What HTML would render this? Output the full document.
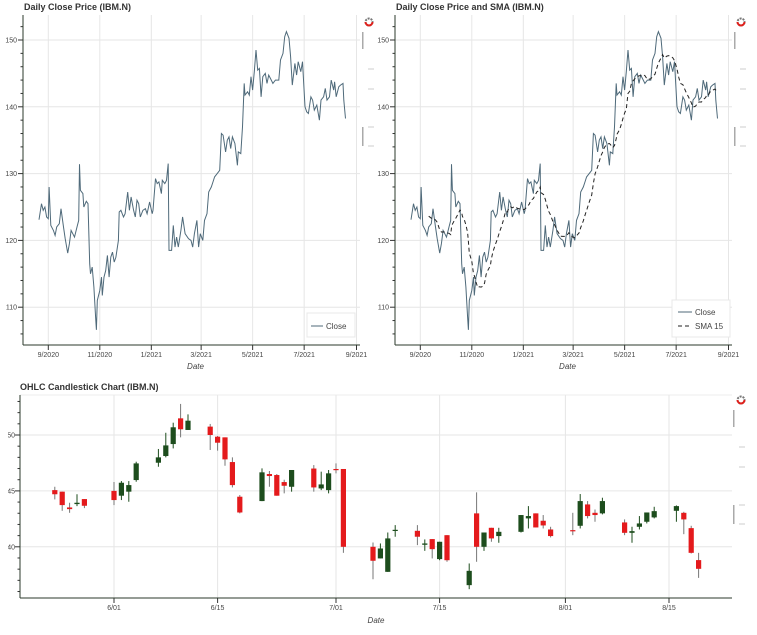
<!DOCTYPE html>
<html><head><meta charset="utf-8">
<style>
html,body{margin:0;padding:0;background:#fff;}
svg{display:block;font-family:"Liberation Sans",sans-serif;}
.title{font-size:9px;font-weight:bold;fill:#333;}
.tick{font-size:7px;fill:#444;}
.axl{font-size:8px;font-style:italic;fill:#444;}
.grid{stroke:#e6e6e6;stroke-width:1;}
</style></head>
<body>
<svg id="chart" width="757" height="635" viewBox="0 0 757 635" xmlns="http://www.w3.org/2000/svg">
<defs><clipPath id="ylabclip"><rect x="8" y="380" width="20" height="240"/></clipPath></defs>
</svg>
<script>
// ---- Daily close data (days since 2020-09-01) ----
const closeDays = [-11,-8,-6,-4,-2,0,1,3,6,8,10,13,15,18,20,23,25,27,29,31,34,36,37,38,41,42,45,47,49,50,52,54,56,57,58,61,63,64,66,68,70,72,74,76,78,80,83,84,86,89,91,94,96,98,101,103,105,107,109,112,115,117,120,123,124,127,129,131,134,135,138,140,142,143,146,148,150,152,154,157,159,162,166,169,171,173,176,178,180,183,185,188,190,193,195,197,200,203,205,207,210,212,214,216,218,221,224,225,228,230,232,233,236,238,240,242,244,246,248,250,252,254,257,259,261,263,266,269,273,275,278,280,282,285,287,289,292,294,296,299,301,304,306,308,311,313,315,318,321,323,326,328,330,333,335,338,339,341,344,346,349,350,352];
const closeVals = [123.1,125.5,124.5,125,123.5,123.25,128,122.25,121.5,120.75,122,122.5,124.75,122,120.25,118.1,119.5,121.5,121,120.5,122,123,131.4,127.5,127,125,125.85,125.5,116.5,115,116,113,108.5,106.6,111,112.5,114.5,111.75,114.5,115.5,117.75,114.5,117.5,118.25,116.75,117.5,120,124.25,124.5,123.5,124,127.25,124.5,126.5,124.5,123.5,126,125.5,123.5,124.5,124.75,124,125.75,124,124.5,129.25,128.5,128.75,127,129,128.5,129,131.5,118.5,118.5,122.25,119,120.5,119,121.5,123.5,121,120.25,120,119,121,123,119,121,120,123,124,127.25,128,128.75,129.5,130,130.5,136,135.75,133.25,135,135.5,133.75,135.5,134.5,131.25,133.25,133,137,143.5,141.75,142.25,141.75,144.5,142.5,145.25,148.5,145.5,145.75,141.5,144.5,145,143.5,144.75,144.25,143.5,144,144,147,148,150.5,151.25,150.25,147.5,143.25,146.5,144.75,146.75,145.25,146.75,140,139.25,139,141.5,141,139.5,140.25,138,141,141.5,142.75,141,141.5,144,142.5,143.75,141.5,143,143.25,143.5,141,138.25];
const lineTickLabels = ["9/2020","11/2020","1/2021","3/2021","5/2021","7/2021","9/2021"];
const lineTickDays = [0,61,122,181,242,303,365];
const lineYTicks = [110,120,130,140,150];
const smaWindowDays = 21;

// ---- OHLC data (days since 2021-06-01) ----
const ohlcDays = [-8,-7,-6,-5,-4,0,1,2,3,6,7,8,9,10,13,14,15,16,17,20,21,22,23,24,27,28,29,30,31,35,36,37,38,41,42,43,44,45,48,49,50,51,52,55,56,57,58,59,62,63,64,65,66,69,70,71,72,73,76,77,78,79];
const ohlcOpen = [145.07,144.93,143.52,143.82,144.27,145.0,144.57,144.93,145.97,147.52,148.12,149.19,151.49,150.45,150.75,149.85,149.79,147.58,144.48,144.09,146.51,146.42,145.79,145.37,147.0,145.22,145.07,146.96,146.96,140.0,138.96,137.76,141.43,141.43,140.18,140.69,138.9,141.04,136.57,142.99,140.0,141.7,140.96,141.34,142.54,142.99,142.33,141.55,141.49,141.88,143.79,143.04,142.99,142.18,141.25,141.79,142.24,142.63,143.22,143.04,141.67,138.81];
const ohlcHigh = [145.37,144.93,143.94,144.7,144.27,145.8,145.88,145.88,147.61,148.75,150.2,151.1,152.78,151.85,150.99,149.91,149.79,148.0,144.63,147.01,146.78,146.51,146.0,146.87,147.31,146.72,146.87,147.46,146.96,140.39,140.3,141.28,141.94,141.94,140.66,140.69,140.45,141.04,138.51,144.87,141.28,141.7,141.7,142.84,143.64,142.99,142.84,141.79,143.04,144.72,144.09,143.34,144.39,142.45,141.79,142.75,143.07,143.58,143.7,143.13,141.88,139.46];
const ohlcLow = [144.24,143.22,143.04,143.64,143.46,143.73,144.18,144.03,145.82,147.16,148.0,148.8,149.79,150.45,148.66,148.6,147.25,145.31,142.99,144.09,145.37,144.57,144.78,144.93,144.93,145.07,144.78,146.57,139.46,137.1,138.96,137.76,140.9,140.15,139.64,138.96,138.8,138.66,136.21,138.66,139.64,140.45,140.36,141.28,141.64,141.73,141.64,140.84,141.04,141.64,142.54,142.24,142.9,141.04,140.36,141.55,142.09,142.54,142.24,141.13,139.4,137.22];
const ohlcClose = [144.7,143.73,143.37,143.94,143.67,144.18,145.73,145.52,147.46,148.0,149.07,150.69,150.51,151.28,150.0,149.31,147.82,145.52,143.07,146.66,146.33,144.57,145.46,146.87,145.31,145.58,146.57,146.87,140.0,138.75,139.85,140.75,141.52,140.9,140.3,139.79,140.45,138.8,137.85,140.0,141.28,140.75,141.34,142.84,142.75,141.73,141.91,140.96,141.43,144.09,142.75,142.84,144.09,141.25,141.4,142.09,143.07,143.19,143.64,142.45,139.46,138.03];
const ohlcTickLabels = ["6/01","6/15","7/01","7/15","8/01","8/15"];
const ohlcTickDays = [0,14,30,44,61,75];
const ohlcYTicks = [140,145,150];

const NS="http://www.w3.org/2000/svg";
const svg=document.getElementById('chart');
function mk(tag,attrs,parent){const e=document.createElementNS(NS,tag);for(const k in attrs)e.setAttribute(k,attrs[k]);(parent||svg).appendChild(e);return e;}

// ---------- line charts ----------
function lineChart(ox,title,withSma){
  const L=23+ox,R=360+ox,T=15,B=345;
  const xs=d=>48.3+ox+d*0.8444;
  const ys=p=>40+(150-p)*6.68;
  const g=mk('g',{});
  
  
  const t=mk('text',{x:L+1,y:10,class:'title'},g);t.textContent=title;
  
  lineTickDays.forEach((d,i)=>{
    mk('line',{x1:xs(d),x2:xs(d),y1:T,y2:B,class:'grid'},g);
    mk('line',{x1:xs(d),x2:xs(d),y1:B,y2:B+5,stroke:'#333'},g);
    const tx=mk('text',{x:xs(d),y:B+12,class:'tick','text-anchor':'middle'},g);tx.textContent=lineTickLabels[i];
    
  });
  lineYTicks.forEach(v=>{
    mk('line',{x1:L,x2:R,y1:ys(v),y2:ys(v),class:'grid'},g);
    mk('line',{x1:L-5,x2:L,y1:ys(v),y2:ys(v),stroke:'#333'},g);
    const ty=mk('text',{x:L-6,y:ys(v)+2.5,class:'tick','text-anchor':'end'},g);ty.textContent=v;
    
  });
  for(let v=106;v<=152;v+=2){ if(v%10) mk('line',{x1:L-2.5,x2:L,y1:ys(v),y2:ys(v),stroke:'#333'},g); }
  mk('line',{x1:L,x2:L,y1:T,y2:B,stroke:'#2b3a2b'},g);
  mk('line',{x1:L,x2:R,y1:B,y2:B,stroke:'#2b3a2b'},g);
  const xl=mk('text',{x:(L+R)/2+4,y:369,class:'axl','text-anchor':'middle'},g);xl.textContent='Date';
  
  const pts=closeDays.map((d,i)=>xs(d).toFixed(1)+','+ys(closeVals[i]).toFixed(1)).join(' ');
  const pl=mk('polyline',{points:pts,fill:'none',stroke:'#4f6a7a','stroke-width':1},g);
  
  let lg;
  if(withSma){
    const sp=[];
    closeDays.forEach((d,i)=>{
      if(d-closeDays[0]<smaWindowDays) return;
      let s=0,n=0;closeDays.forEach((d2,j)=>{if(d2<=d&&d2>d-smaWindowDays){s+=closeVals[j];n++;}});
      sp.push(xs(d).toFixed(1)+','+ys(s/n).toFixed(1));
    });
    const sl=mk('polyline',{points:sp.join(' '),fill:'none',stroke:'#222','stroke-width':1,'stroke-dasharray':'4,3'},g);
    
    lg=mk('g',{},g);
    mk('rect',{x:672,y:300,width:58,height:37,fill:'#fff',stroke:'#e8e8e8'},lg);
    mk('line',{x1:678,x2:692,y1:312,y2:312,stroke:'#4f6a7a'},lg);
    const a=mk('text',{x:695,y:315,style:'font-size:8px;fill:#444'},lg);a.textContent='Close';
    mk('line',{x1:678,x2:692,y1:326,y2:326,stroke:'#222','stroke-dasharray':'4,3'},lg);
    const b=mk('text',{x:695,y:329,style:'font-size:8px;fill:#444'},lg);b.textContent='SMA 15';
  } else {
    lg=mk('g',{},g);
    mk('rect',{x:307,y:313,width:48,height:24,fill:'#fff',stroke:'#e8e8e8'},lg);
    mk('line',{x1:311,x2:323,y1:326,y2:326,stroke:'#4f6a7a'},lg);
    const a=mk('text',{x:326,y:329,style:'font-size:8px;fill:#444'},lg);a.textContent='Close';
  }
  
  toolbar(ox+369,22,ox+362);
}
function toolbar(cx,cy,bx){
  const tb=mk('g',{});
  
  mk('circle',{cx:cx,cy:cy,r:3.5,fill:'none',stroke:'#777','stroke-width':2,'stroke-dasharray':'2,1'},tb);
  mk('path',{d:`M${cx-3.5} ${cy} A3.5 3.5 0 0 0 ${cx+3.5} ${cy}`,fill:'none',stroke:'#e0201c','stroke-width':2},tb);
  mk('rect',{x:bx,y:cy+10,width:1.5,height:17,fill:'#aaa'},tb);
  mk('line',{x1:bx+6,x2:bx+12,y1:cy+47,y2:cy+47,stroke:'#ccc'},tb);
  mk('line',{x1:bx+6,x2:bx+12,y1:cy+67,y2:cy+67,stroke:'#ccc'},tb);
  mk('line',{x1:bx+6,x2:bx+12,y1:cy+105,y2:cy+105,stroke:'#ccc'},tb);
  mk('rect',{x:bx,y:cy+105,width:1.5,height:19,fill:'#aaa'},tb);
  mk('line',{x1:bx+6,x2:bx+12,y1:cy+124,y2:cy+124,stroke:'#ccc'},tb);
}
lineChart(0,'Daily Close Price (IBM.N)',false);
lineChart(372,'Daily Close Price and SMA (IBM.N)',true);

// ---------- candlestick ----------
(function(){
  const L=20,R=732,T=395,B=598;
  const xs=d=>114+d*7.4;
  const ys=p=>435+(150-p)*11.18;
  const g=mk('g',{});
  
  const t=mk('text',{x:L,y:390,class:'title'},g);t.textContent='OHLC Candlestick Chart (IBM.N)';
  
  mk('line',{x1:L,x2:R,y1:T,y2:T,stroke:'#eee'},g);
  ohlcTickDays.forEach((d,i)=>{
    mk('line',{x1:xs(d),x2:xs(d),y1:T,y2:B,class:'grid'},g);
    mk('line',{x1:xs(d),x2:xs(d),y1:B,y2:B+5,stroke:'#333'},g);
    const tx=mk('text',{x:xs(d),y:B+12,class:'tick','text-anchor':'middle'},g);tx.textContent=ohlcTickLabels[i];
    
  });
  ohlcYTicks.forEach(v=>{
    mk('line',{x1:L,x2:R,y1:ys(v),y2:ys(v),class:'grid'},g);
    mk('line',{x1:L-5,x2:L,y1:ys(v),y2:ys(v),stroke:'#333'},g);
    const ty=mk('text',{x:L-5,y:ys(v)+2.5,class:'tick','text-anchor':'end','clip-path':'url(#ylabclip)'},g);ty.textContent=v;
    
  });
  for(let v=136;v<=153;v++){ if(v%5) mk('line',{x1:L-2.5,x2:L,y1:ys(v),y2:ys(v),stroke:'#333'},g); }
  mk('line',{x1:L,x2:L,y1:T,y2:B,stroke:'#2b3a2b'},g);
  mk('line',{x1:L,x2:R,y1:B,y2:B,stroke:'#2b3a2b'},g);
  const xl=mk('text',{x:376,y:623,class:'axl','text-anchor':'middle'},g);xl.textContent='Date';
  
  ohlcDays.forEach((d,i)=>{
    const up=ohlcClose[i]>=ohlcOpen[i];
    const col=up?'#1d4d1d':'#e41a1c';
    const x=xs(d);
    const w=mk('line',{x1:x,x2:x,y1:ys(ohlcHigh[i]),y2:ys(ohlcLow[i]),stroke:up?'#1d4d1d':'#777','stroke-width':1},g);
    
    const top=ys(Math.max(ohlcOpen[i],ohlcClose[i])),bot=ys(Math.min(ohlcOpen[i],ohlcClose[i]));
    const r=mk('rect',{x:x-2.6,y:top,width:5.2,height:Math.max(bot-top,1.2),fill:col},g);
    
  });
  toolbar(741,400,733);
})();
</script>
</body></html>
